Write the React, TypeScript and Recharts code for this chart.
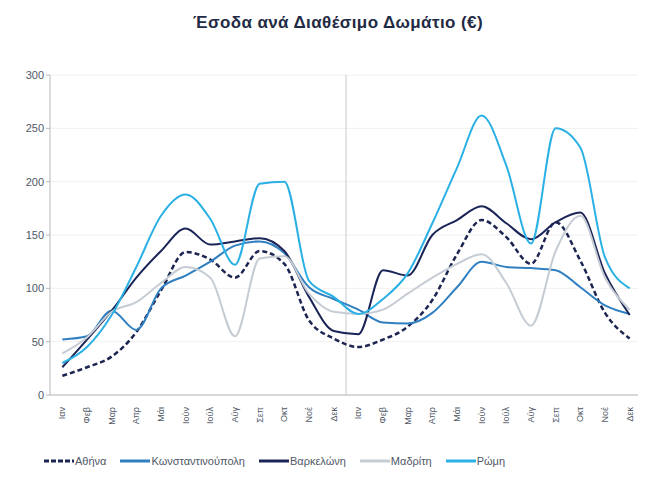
import { CartesianGrid, Line, LineChart, ReferenceLine, XAxis, YAxis } from 'recharts';

const months = ['Ιαν', 'Φεβ', 'Μαρ', 'Απρ', 'Μάι', 'Ιούν', 'Ιούλ', 'Αύγ', 'Σεπ', 'Οκτ', 'Νοέ', 'Δεκ'];
const yTicks = [0, 50, 100, 150, 200, 250, 300];

// two consecutive years, January to December
const athens = [18, 26, 36, 59, 98, 134, 127, 110, 135, 123, 70, 53, 45, 52, 64, 89, 132, 164, 148, 123, 162, 126, 77, 53];
const istanbul = [52, 55, 79, 61, 100, 112, 125, 140, 144, 133, 101, 90, 80, 68, 67, 77, 101, 125, 120, 119, 117, 101, 84, 76];
const barcelona = [26, 52, 79, 110, 135, 156, 141, 144, 147, 135, 92, 60, 57, 117, 112, 150, 164, 177, 161, 146, 162, 171, 114, 75];
const madrid = [39, 54, 78, 87, 105, 120, 110, 55, 128, 130, 95, 78, 76, 80, 95, 110, 123, 132, 105, 65, 135, 168, 110, 80];
const rome = [30, 45, 75, 120, 168, 188, 165, 122, 198, 200, 107, 92, 76, 90, 114, 161, 213, 262, 215, 142, 250, 232, 129, 100];

const series = [
  { key: 'athens', name: 'Αθήνα', values: athens, color: '#1c2551', dash: '5 3', width: 2.5 },
  { key: 'istanbul', name: 'Κωνσταντινούπολη', values: istanbul, color: '#2f7fc1', dash: undefined, width: 2 },
  { key: 'barcelona', name: 'Βαρκελώνη', values: barcelona, color: '#1a2456', dash: undefined, width: 2 },
  { key: 'madrid', name: 'Μαδρίτη', values: madrid, color: '#c5ccd3', dash: undefined, width: 2 },
  { key: 'rome', name: 'Ρώμη', values: rome, color: '#2ab0e4', dash: undefined, width: 2 },
];

const data = athens.map((_, i) => {
  const row: Record<string, number | string> = { idx: i, label: months[i % 12] };
  series.forEach((s) => {
    row[s.key] = s.values[i];
  });
  return row;
});

const FONT = '"Liberation Sans", Arial, sans-serif';
const TEXT = '#4f5866';

function MonthTick({ x, y, payload }: any) {
  const label = months[Number(payload.value) % 12];
  return (
    <text
      x={x}
      y={y + 4}
      transform={`rotate(-90 ${x} ${y + 4})`}
      textAnchor="end"
      dy="0.35em"
      fontSize={9}
      fill={TEXT}
      fontFamily={FONT}
    >
      {label}
    </text>
  );
}

export default function App() {
  return (
    <div style={{ position: 'relative', width: 638, height: 495, background: '#fff', fontFamily: FONT }}>
      <div
        style={{
          position: 'absolute',
          top: 5,
          left: 0,
          width: 660,
          textAlign: 'center',
          fontSize: 17,
          letterSpacing: 0.4,
          fontWeight: 'bold',
          color: '#1f2a44',
        }}
      >
        Έσοδα ανά Διαθέσιμο Δωμάτιο (€)
      </div>
      <LineChart width={638} height={427} data={data} margin={{ top: 67, right: 4, left: 0, bottom: 0 }}>
        <CartesianGrid vertical={false} stroke="#f0f0f0" />
        <XAxis
          dataKey="idx"
          type="number"
          domain={[-0.5, 23.5]}
          ticks={data.map((d) => d.idx as number)}
          interval={0}
          tick={<MonthTick />}
          tickLine={false}
          axisLine={{ stroke: '#b8b8b8' }}
          height={40}
        />
        <YAxis
          domain={[0, 300]}
          ticks={yTicks}
          width={42}
          tick={{ fontSize: 11, fill: TEXT, fontFamily: FONT }}
          tickLine={{ stroke: '#b8b8b8' }}
          tickSize={4}
          axisLine={{ stroke: '#b8b8b8' }}
        />
        <ReferenceLine x={11.5} stroke="#c8c8c8" />
        {series.map((s) => (
          <Line
            key={s.key}
            type="monotone"
            dataKey={s.key}
            name={s.name}
            stroke={s.color}
            strokeWidth={s.width}
            strokeDasharray={s.dash}
            dot={false}
            isAnimationActive={false}
          />
        ))}
      </LineChart>
      <div
        style={{
          position: 'absolute',
          top: 447,
          left: 36,
          display: 'flex',
          gap: 14,
          alignItems: 'center',
          fontSize: 11,
          color: TEXT,
        }}
      >
        {series.map((s) => (
          <div key={s.key} style={{ display: 'flex', alignItems: 'center' }}>
            <svg width={30} height={10}>
              <line x1={0} y1={5} x2={30} y2={5} stroke={s.color} strokeWidth={3} strokeDasharray={s.dash ? '5 2' : undefined} />
            </svg>
            <span style={{ marginLeft: 1 }}>{s.name}</span>
          </div>
        ))}
      </div>
    </div>
  );
}
